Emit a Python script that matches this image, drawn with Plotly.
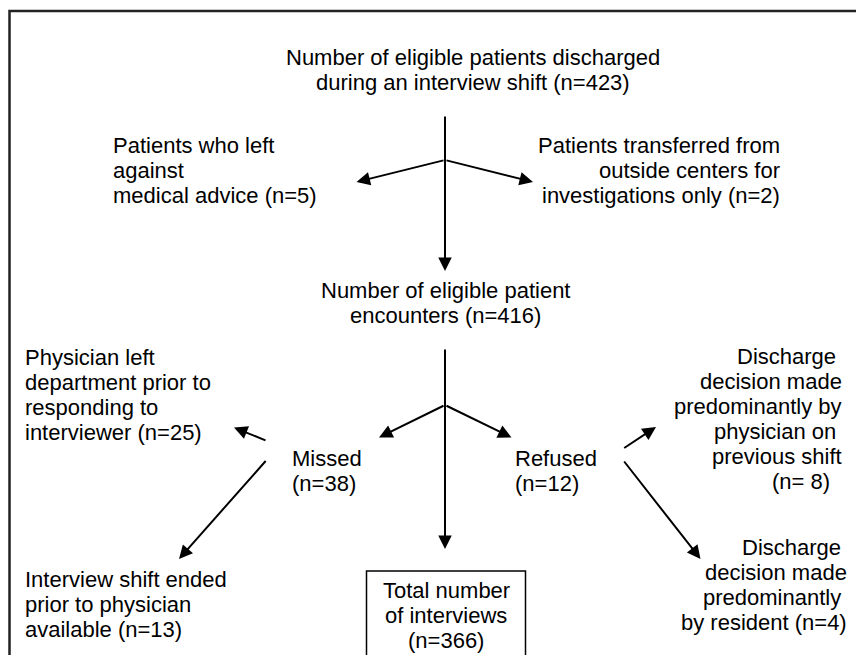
import plotly.graph_objects as go

# ---- data: flow counts ----
n_discharged = 423
n_left_ama = 5
n_transferred = 2
n_encounters = 416
n_missed = 38
n_refused = 12
n_phys_left = 25
n_shift_ended = 13
n_prev_shift = 8
n_resident = 4
n_interviews = 366

NB = "\u00a0"

# ---- node labels (one entry per text line) ----
lbl_top = ["Number of eligible patients discharged",
           f"during an interview shift (n={n_discharged})"]
lbl_ama = ["Patients who left", "against", f"medical advice (n={n_left_ama})"]
lbl_transfer = ["Patients transferred from", "outside centers for",
                f"investigations only (n={n_transferred})"]
lbl_encounters = ["Number of eligible patient", f"encounters (n={n_encounters})"]
lbl_phys_left = ["Physician left", "department prior to", "responding to",
                 f"interviewer (n={n_phys_left})"]
lbl_missed = ["Missed", f"(n={n_missed})"]
lbl_refused = ["Refused", f"(n={n_refused})"]
lbl_prev_shift = ["Discharge" + NB, "decision made", "predominantly by",
                  "physician on" + NB, "previous shift", f"(n= {n_prev_shift})" + NB + NB]
lbl_shift_ended = ["Interview shift ended", "prior to physician",
                   f"available (n={n_shift_ended})"]
lbl_resident = ["Discharge" + NB, "decision made", "predominantly" + NB,
                f"by resident (n={n_resident})"]
lbl_interviews = ["Total number", "of interviews", f"(n={n_interviews})"]

# ---- layout (pixel coordinates): x, anchor, first baseline, line step ----
nodes = [
    (lbl_top, 472.5, "center", 65, 24.5),
    (lbl_ama, 113, "left", 153, 25),
    (lbl_transfer, 780, "right", 153, 25),
    (lbl_encounters, 445, "center", 298, 25),
    (lbl_phys_left, 25, "left", 365, 25),
    (lbl_missed, 292, "left", 466, 24.5),
    (lbl_refused, 514.5, "left", 466, 24.5),
    (lbl_prev_shift, 842, "right", 364, 25),
    (lbl_shift_ended, 25, "left", 587, 25),
    (lbl_resident, 847, "right", 555, 25),
    (lbl_interviews, 446, "center", 598, 25),
]

# arrows: (tail_x, tail_y, tip_x, tip_y)
arrows = [
    (445, 115, 445, 271),
    (445, 160, 356.5, 182),
    (445, 160, 533, 182),
    (445, 348, 445, 549),
    (445, 405, 379, 437.5),
    (445, 405, 511.5, 437.5),
    (267, 441, 234, 427.5),
    (267, 459.5, 179, 559),
    (622.7, 449, 656, 427),
    (623, 460, 700.5, 559),
]

FS = 22
FONT = "Liberation Sans, Arial, sans-serif"
PAGE_OFF = 8  # default page body margin

annotations = []
for lines, x, anchor, base, step in nodes:
    for i, line in enumerate(lines):
        baseline = base + i * step
        annotations.append(dict(
            x=x, y=baseline - 7.5, xref="x", yref="y",
            text=line, showarrow=False, xanchor=anchor, yanchor="middle",
            align=anchor if anchor != "center" else "center",
            font=dict(family=FONT, size=FS, color="#000000"),
            borderpad=0, borderwidth=0,
        ))

for tx, ty, hx, hy in arrows:
    annotations.append(dict(
        x=hx, y=hy, ax=tx, ay=ty, xref="x", yref="y", axref="x", ayref="y",
        text="", showarrow=True, arrowhead=2, arrowsize=1.35, arrowwidth=2,
        arrowcolor="#000000", standoff=0, startstandoff=0,
    ))

shapes = [
    # outer frame (extends beyond the visible area on the right and bottom)
    dict(type="rect", xref="x", yref="y", x0=9.5, y0=11, x1=900, y1=700,
         line=dict(color="#222222", width=2.5), fillcolor="rgba(0,0,0,0)"),
    # box around the final count
    dict(type="rect", xref="x", yref="y", x0=366.5, y0=571, x1=525.5, y1=700,
         line=dict(color="#000000", width=1.5), fillcolor="rgba(0,0,0,0)"),
]

fig = go.Figure()
fig.update_layout(
    width=864, height=655,
    margin=dict(l=0, r=0, t=0, b=0),
    paper_bgcolor="white", plot_bgcolor="white",
    xaxis=dict(range=[PAGE_OFF, 864 + PAGE_OFF], visible=False, fixedrange=True),
    yaxis=dict(range=[655 + PAGE_OFF, PAGE_OFF], visible=False, fixedrange=True),
    annotations=annotations, shapes=shapes, showlegend=False,
)
fig.write_html("out.html")
